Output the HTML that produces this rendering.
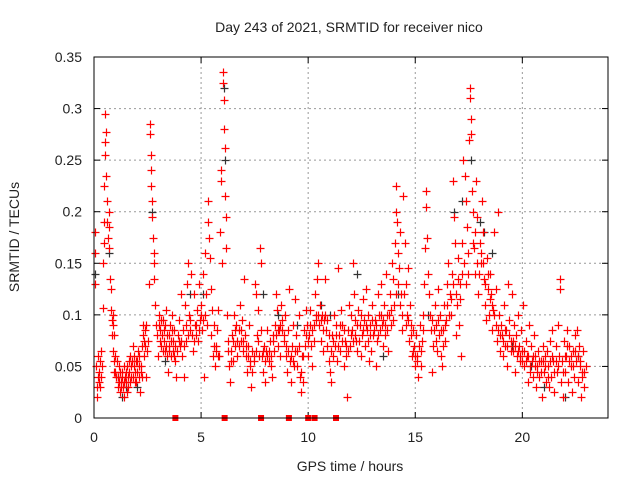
<!DOCTYPE html>
<html><head><meta charset="utf-8"><style>
body{margin:0;background:#fff}
svg text{font-family:"Liberation Sans",sans-serif;font-size:14px;fill:#222}
</style></head><body>
<svg id="chart" width="640" height="480" xmlns="http://www.w3.org/2000/svg">
<rect width="640" height="480" fill="#fff"/>
<g id="grid"></g>
<g id="black"></g>
<g id="red"></g>
<rect x="94" y="57" width="514" height="361" fill="none" stroke="#000" stroke-width="1"/>
<g id="ticks"></g>
<text x="349" y="32" text-anchor="middle">Day 243 of 2021, SRMTID for receiver nico</text>
<text x="350" y="471" text-anchor="middle">GPS time / hours</text>
<text transform="translate(19,237) rotate(-90)" text-anchor="middle">SRMTID / TECUs</text>
</svg>
<script>
const xTicks=[0,5,10,15,20];
const yTicks=[0,0.05,0.1,0.15,0.2,0.25,0.3,0.35];
const yTickLabels=["0","0.05","0.1","0.15","0.2","0.25","0.3","0.35"];
const zeroMarks=[3.8,6.1,7.8,9.1,10.0,10.3,11.3];
const blackPts=[[0.05,.14],[0.7,.16],[1.3,.02],[1.5,.03],[2.7,.2],[4.5,.12],[6.05,.32],[6.1,.25],[7.9,.12],[9.5,.09],[12.3,.14],[14.2,.12],[16.8,.2],[17.6,.25],[18.2,.18],[18.6,.16],[21.0,.03],[22.0,.02],[19.5,.07],[3.3,.055],[5.1,.12],[8.6,.1],[10.6,.11],[13.5,.06],[15.6,.1],[20.4,.05],[1.1,.04],[2.0,.03],[11.0,.1],[17.2,.21],[18.0,.19],[22.6,.06]];
const redPts=[[0.05,.18],[0.05,.16],[0.07,.13],[0.1,.05],[0.12,.03],[0.15,.02],[0.18,.04],[0.2,.06],[0.22,.035],[0.25,.045],[0.28,.03],[0.3,.055],[0.32,.04],[0.35,.065],[0.38,.05],[0.4,.107],[0.42,.15],[0.45,.17],[0.47,.19],[0.48,.225],[0.5,.255],[0.5,.295],[0.52,.268],[0.55,.277],[0.58,.235],[0.6,.21],[0.62,.19],[0.65,.175],[0.68,.165],[0.7,.2],[0.72,.185],[0.75,.135],[0.78,.125],[0.8,.105],[0.82,.095],[0.85,.08],[0.88,.09],[0.9,.065],[0.92,.055],[0.95,.045],[1.0,.06],[1.05,.04],[1.1,.03],[1.15,.05],[1.2,.025],[1.25,.035],[1.3,.045],[1.35,.03],[1.4,.02],[1.45,.04],[1.5,.035],[1.55,.05],[1.6,.03],[1.65,.045],[1.7,.06],[1.75,.04],[1.8,.07],[1.85,.05],[1.9,.035],[1.95,.055],[2.0,.045],[2.05,.065],[2.1,.04],[2.15,.025],[2.2,.05],[2.25,.07],[2.3,.09],[2.35,.06],[2.4,.085],[2.45,.04],[2.5,.075],[2.55,.13],[2.6,.285],[2.62,.275],[2.65,.255],[2.65,.24],[2.68,.225],[2.7,.21],[2.72,.195],[2.75,.175],[2.78,.16],[2.8,.15],[2.82,.135],[2.85,.11],[2.9,.09],[2.95,.08],[3.0,.06],[3.05,.1],[3.1,.085],[3.15,.07],[3.2,.095],[3.25,.075],[3.3,.065],[3.35,.105],[3.4,.08],[3.45,.045],[3.5,.07],[3.55,.09],[3.6,.06],[3.65,.1],[3.7,.075],[3.75,.085],[3.8,.055],[3.85,.04],[3.9,.08],[3.95,.095],[4.0,.07],[4.05,.12],[4.1,.06],[4.15,.085],[4.2,.04],[4.25,.11],[4.3,.075],[4.35,.13],[4.4,.15],[4.45,.1],[4.5,.085],[4.55,.14],[4.6,.065],[4.65,.12],[4.7,.09],[4.75,.08],[4.8,.105],[4.85,.075],[4.9,.13],[4.95,.095],[5.0,.11],[5.05,.085],[5.1,.14],[5.15,.04],[5.2,.16],[5.25,.12],[5.3,.19],[5.32,.21],[5.35,.175],[5.4,.155],[5.45,.125],[5.5,.105],[5.55,.06],[5.6,.09],[5.65,.05],[5.7,.07],[5.75,.085],[5.8,.105],[5.85,.06],[5.9,.18],[5.92,.24],[5.95,.23],[5.98,.15],[6.0,.335],[6.02,.325],[6.05,.308],[6.08,.28],[6.1,.262],[6.12,.215],[6.15,.195],[6.18,.165],[6.2,.1],[6.25,.075],[6.3,.05],[6.35,.035],[6.4,.065],[6.45,.08],[6.5,.055],[6.55,.1],[6.6,.07],[6.65,.09],[6.7,.06],[6.75,.085],[6.8,.11],[6.85,.075],[6.9,.095],[6.95,.065],[7.0,.135],[7.05,.08],[7.1,.06],[7.15,.045],[7.2,.07],[7.25,.09],[7.3,.05],[7.35,.03],[7.4,.065],[7.45,.055],[7.5,.13],[7.55,.12],[7.6,.08],[7.65,.105],[7.7,.06],[7.75,.165],[7.78,.15],[7.8,.085],[7.85,.06],[7.9,.045],[7.95,.07],[8.0,.035],[8.05,.065],[8.1,.085],[8.15,.055],[8.2,.075],[8.25,.05],[8.3,.04],[8.35,.08],[8.4,.065],[8.45,.09],[8.5,.12],[8.55,.105],[8.6,.07],[8.65,.085],[8.7,.06],[8.75,.11],[8.8,.095],[8.85,.075],[8.9,.1],[8.95,.06],[9.0,.045],[9.05,.085],[9.1,.125],[9.15,.055],[9.2,.035],[9.25,.07],[9.3,.09],[9.35,.05],[9.4,.115],[9.45,.08],[9.5,.065],[9.55,.1],[9.6,.04],[9.65,.025],[9.7,.06],[9.75,.035],[9.8,.085],[9.85,.07],[9.9,.105],[9.95,.09],[10.0,.06],[10.05,.08],[10.1,.105],[10.15,.07],[10.2,.05],[10.25,.09],[10.3,.12],[10.35,.1],[10.4,.135],[10.45,.15],[10.5,.09],[10.55,.11],[10.6,.075],[10.65,.1],[10.7,.065],[10.75,.095],[10.8,.135],[10.85,.085],[10.9,.07],[10.95,.055],[11.0,.045],[11.05,.035],[11.1,.08],[11.15,.06],[11.2,.1],[11.25,.07],[11.3,.09],[11.35,.055],[11.4,.145],[11.45,.08],[11.5,.065],[11.55,.105],[11.6,.09],[11.65,.05],[11.7,.075],[11.75,.06],[11.8,.02],[11.85,.085],[11.9,.11],[11.95,.07],[12.0,.1],[12.05,.085],[12.1,.15],[12.15,.12],[12.2,.095],[12.25,.075],[12.3,.065],[12.35,.105],[12.4,.09],[12.45,.06],[12.5,.08],[12.55,.115],[12.6,.095],[12.65,.07],[12.7,.125],[12.75,.085],[12.8,.1],[12.85,.055],[12.9,.09],[12.95,.065],[13.0,.11],[13.05,.08],[13.1,.095],[13.15,.05],[13.2,.075],[13.25,.12],[13.3,.1],[13.35,.085],[13.4,.13],[13.45,.09],[13.5,.07],[13.55,.11],[13.6,.08],[13.65,.14],[13.7,.1],[13.75,.065],[13.8,.12],[13.85,.09],[13.9,.15],[13.95,.135],[14.0,.11],[14.05,.17],[14.1,.2],[14.12,.225],[14.15,.19],[14.2,.16],[14.25,.145],[14.3,.18],[14.35,.12],[14.4,.085],[14.45,.215],[14.5,.17],[14.55,.13],[14.6,.1],[14.65,.145],[14.7,.075],[14.75,.11],[14.8,.09],[14.85,.06],[14.9,.085],[14.95,.07],[15.0,.05],[15.05,.08],[15.1,.06],[15.15,.04],[15.2,.09],[15.25,.065],[15.3,.075],[15.35,.1],[15.4,.13],[15.45,.165],[15.5,.205],[15.52,.22],[15.55,.175],[15.6,.14],[15.65,.12],[15.7,.1],[15.75,.085],[15.8,.045],[15.85,.07],[15.9,.11],[15.95,.09],[16.0,.065],[16.05,.125],[16.1,.08],[16.15,.1],[16.2,.06],[16.25,.05],[16.3,.085],[16.35,.11],[16.4,.075],[16.45,.095],[16.5,.13],[16.55,.15],[16.6,.12],[16.65,.1],[16.7,.14],[16.75,.23],[16.8,.195],[16.85,.17],[16.9,.08],[16.95,.11],[17.0,.155],[17.05,.09],[17.1,.13],[17.15,.06],[17.2,.17],[17.25,.25],[17.3,.235],[17.35,.21],[17.4,.185],[17.45,.16],[17.5,.27],[17.55,.32],[17.57,.31],[17.6,.29],[17.62,.275],[17.65,.22],[17.7,.2],[17.75,.165],[17.8,.14],[17.85,.23],[17.9,.195],[17.95,.12],[18.0,.17],[18.05,.15],[18.1,.21],[18.15,.18],[18.2,.135],[18.25,.11],[18.3,.095],[18.35,.155],[18.4,.125],[18.45,.1],[18.5,.14],[18.55,.12],[18.6,.085],[18.65,.105],[18.7,.18],[18.75,.125],[18.8,.075],[18.85,.2],[18.9,.1],[18.95,.065],[19.0,.09],[19.05,.08],[19.1,.06],[19.15,.11],[19.2,.07],[19.25,.085],[19.3,.05],[19.35,.13],[19.4,.095],[19.45,.075],[19.5,.12],[19.55,.065],[19.6,.09],[19.65,.045],[19.7,.08],[19.75,.06],[19.8,.1],[19.85,.07],[19.9,.055],[19.95,.085],[20.0,.065],[20.05,.11],[20.1,.05],[20.15,.075],[20.2,.06],[20.25,.035],[20.3,.09],[20.35,.045],[20.4,.07],[20.45,.055],[20.5,.04],[20.55,.08],[20.6,.06],[20.65,.03],[20.7,.05],[20.75,.065],[20.8,.04],[20.85,.055],[20.9,.02],[20.95,.07],[21.0,.045],[21.05,.06],[21.1,.035],[21.15,.065],[21.2,.05],[21.25,.03],[21.3,.075],[21.35,.04],[21.4,.085],[21.45,.055],[21.5,.025],[21.55,.07],[21.6,.045],[21.65,.09],[21.7,.06],[21.75,.135],[21.78,.125],[21.8,.035],[21.85,.055],[21.9,.02],[21.95,.075],[22.0,.045],[22.05,.06],[22.1,.085],[22.15,.035],[22.2,.07],[22.25,.05],[22.3,.025],[22.35,.065],[22.4,.04],[22.45,.08],[22.5,.055],[22.55,.085],[22.6,.035],[22.65,.07],[22.7,.05],[22.75,.02],[22.8,.045],[22.85,.065],[22.9,.03],[22.95,.05]];
const redPts2=[[0.9,.1],[0.95,.08],[1.0,.045],[1.08,.055],[1.12,.04],[1.18,.035],[1.22,.045],[1.28,.03],[1.32,.04],[1.38,.05],[1.42,.035],[1.48,.045],[1.52,.025],[1.58,.04],[1.62,.055],[1.68,.035],[1.72,.05],[1.78,.055],[1.82,.04],[1.88,.06],[1.92,.045],[1.98,.035],[2.02,.055],[2.08,.05],[2.12,.06],[2.18,.045],[2.22,.04],[2.28,.08],[2.32,.075],[2.38,.07],[2.42,.09],[2.48,.065],[3.02,.09],[3.08,.075],[3.12,.095],[3.18,.08],[3.22,.065],[3.28,.085],[3.32,.09],[3.38,.07],[3.42,.06],[3.48,.08],[3.52,.065],[3.58,.075],[3.62,.085],[3.68,.065],[3.72,.06],[3.78,.07],[3.88,.065],[3.98,.075],[4.08,.075],[4.18,.07],[4.28,.09],[4.38,.08],[4.48,.095],[4.58,.08],[4.68,.075],[4.78,.09],[4.88,.085],[4.98,.1],[5.08,.095],[5.18,.1],[5.28,.09],[5.48,.08],[5.58,.07],[5.68,.065],[5.78,.06],[6.28,.065],[6.38,.055],[6.48,.075],[6.58,.085],[6.68,.075],[6.78,.07],[6.88,.085],[6.98,.075],[7.08,.07],[7.18,.06],[7.28,.055],[7.38,.045],[7.48,.06],[7.58,.065],[7.68,.075],[7.88,.065],[7.98,.055],[8.08,.06],[8.18,.065],[8.28,.06],[8.38,.075],[8.48,.08],[8.58,.085],[8.68,.09],[8.78,.085],[8.88,.08],[8.98,.07],[9.08,.065],[9.18,.06],[9.28,.055],[9.38,.065],[9.48,.05],[9.58,.07],[9.68,.045],[9.78,.06],[9.88,.08],[9.98,.075],[10.08,.09],[10.18,.085],[10.28,.075],[10.38,.095],[10.48,.1],[10.58,.095],[10.68,.085],[10.78,.1],[10.88,.095],[10.98,.08],[11.08,.065],[11.18,.075],[11.28,.08],[11.38,.07],[11.48,.09],[11.58,.075],[11.68,.085],[11.78,.07],[11.88,.065],[11.98,.08],[12.08,.075],[12.18,.08],[12.28,.09],[12.38,.075],[12.48,.1],[12.58,.085],[12.68,.09],[12.78,.075],[12.88,.08],[12.98,.095],[13.08,.085],[13.18,.09],[13.28,.08],[13.38,.1],[13.48,.095],[13.58,.09],[13.68,.085],[13.78,.1],[13.88,.105],[13.98,.095],[14.08,.12],[14.18,.13],[14.28,.11],[14.38,.1],[14.48,.12],[14.58,.09],[14.68,.095],[14.78,.08],[14.88,.065],[14.98,.06],[15.08,.055],[15.18,.07],[15.28,.05],[15.38,.085],[15.78,.095],[15.88,.085],[15.98,.075],[16.08,.095],[16.18,.085],[16.28,.07],[16.38,.09],[16.48,.11],[16.58,.1],[16.68,.115],[16.78,.13],[16.88,.12],[16.98,.135],[17.08,.115],[17.18,.14],[17.28,.15],[17.38,.13],[17.48,.14],[17.68,.17],[17.78,.18],[17.88,.15],[17.98,.14],[18.08,.16],[18.18,.15],[18.28,.13],[18.38,.14],[18.48,.115],[18.58,.11],[18.68,.1],[18.78,.09],[18.88,.085],[18.98,.08],[19.08,.075],[19.18,.085],[19.28,.07],[19.38,.08],[19.48,.065],[19.58,.075],[19.68,.07],[19.78,.065],[19.88,.06],[19.98,.055],[20.08,.065],[20.18,.055],[20.28,.06],[20.38,.05],[20.48,.06],[20.58,.05],[20.68,.045],[20.78,.055],[20.88,.045],[20.98,.055],[21.08,.05],[21.18,.04],[21.28,.055],[21.38,.06],[21.48,.045],[21.58,.055],[21.68,.05],[21.88,.045],[21.98,.06],[22.08,.07],[22.18,.055],[22.28,.06],[22.38,.05],[22.48,.065],[22.58,.06],[22.68,.055],[22.78,.04],[22.88,.045]];

const X0=94,X1=608,Y0=418,Y1=57;
function sx(t){return X0+(t/24)*(X1-X0);}
function sy(v){return Y0-(v/0.35)*(Y0-Y1);}
const NS="http://www.w3.org/2000/svg";
function mk(tag,attrs,parent){const e=document.createElementNS(NS,tag);for(const k in attrs)e.setAttribute(k,attrs[k]);parent.appendChild(e);return e;}
const grid=document.getElementById('grid'),ticks=document.getElementById('ticks');
xTicks.forEach(t=>{
  const x=sx(t);
  if(t>0&&t<24){const l=mk('line',{x1:x,y1:Y1,x2:x,y2:Y0,stroke:'#999','stroke-dasharray':'2,3','stroke-width':1},grid);
  
  }
  mk('line',{x1:x,y1:Y0,x2:x,y2:Y0-6,stroke:'#000'},grid);
  mk('line',{x1:x,y1:Y1,x2:x,y2:Y1+6,stroke:'#000'},grid);
  const tx=mk('text',{x:x,y:Y0+24,'text-anchor':'middle'},ticks);tx.textContent=String(t);
  
  
});
yTicks.forEach((v,i)=>{
  const y=sy(v);
  if(v>0&&v<0.35){const l=mk('line',{x1:X0,y1:y,x2:X1,y2:y,stroke:'#999','stroke-dasharray':'2,3','stroke-width':1},grid);
  
  }
  mk('line',{x1:X0,y1:y,x2:X0+6,y2:y,stroke:'#000'},grid);
  mk('line',{x1:X1,y1:y,x2:X1-6,y2:y,stroke:'#000'},grid);
  const tx=mk('text',{x:X0-12,y:y+5,'text-anchor':'end'},ticks);tx.textContent=yTickLabels[i];
  
  
});
function cross(t,v,col,g,name){
  const x=Math.round(sx(t))+0.5,y=Math.round(sy(v))+0.5;
  const p=mk('path',{d:`M${x-4},${y}H${x+4}M${x},${y-4}V${y+4}`,stroke:col,'stroke-width':1.2,fill:'none'},g);
  
  
}
const bg=document.getElementById('black'),rg=document.getElementById('red');
blackPts.forEach(p=>cross(p[0],p[1],'#333',bg,'black-point'));
redPts.forEach(p=>cross(p[0],p[1],'#f00',rg,'red-point'));
redPts2.forEach(p=>cross(p[0],p[1],'#f00',rg,'red-point'));
zeroMarks.forEach(t=>{
  const r=mk('rect',{x:sx(t)-3,y:Y0-3,width:6,height:6,fill:'#f00'},rg);
  
  
});
</script>
</body></html>
